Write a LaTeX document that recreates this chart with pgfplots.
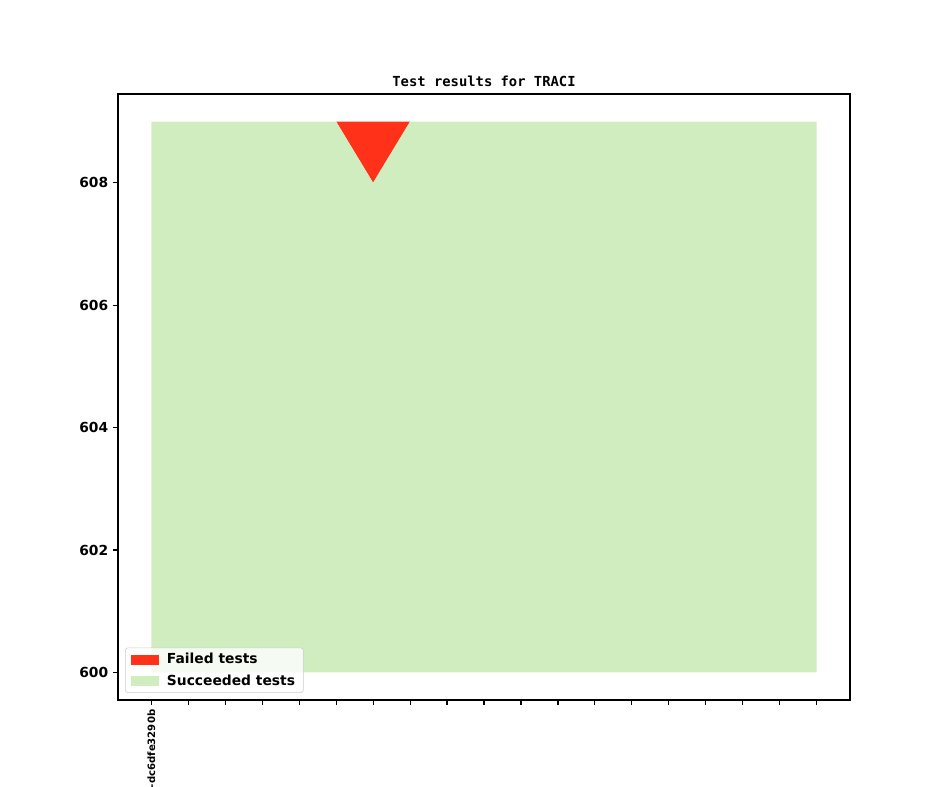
\documentclass[border=0pt]{standalone}
\usepackage{fontspec}
\setmainfont{DejaVu Sans}
\newfontfamily\titlefont{DejaVu Sans Mono}
\usepackage{pgfplots}
\pgfplotsset{compat=1.18}

\definecolor{failred}{RGB}{255,50,25}
\definecolor{succgreen}{RGB}{207,237,191}

\begin{document}
\begin{tikzpicture}[x=1bp,y=1bp]
% full figure area (944x787 px at 100 dpi)
\path[use as bounding box] (0,0) rectangle (679.68,566.64);
\clip (0,0) rectangle (679.68,566.64);
\begin{axis}[
    at={(84.96bp,62.64bp)},
    anchor=south west,
    scale only axis,
    width=527.04bp,
    height=436.32bp,
    xmin=-0.9, xmax=18.9,
    ymin=599.55, ymax=609.45,
    xtick={0,...,18},
    xticklabels={-dc6dfe3290b},
    ytick={600,602,604,606,608},
    xtick pos=bottom, ytick pos=left,
    tick align=outside,
    major tick length=3.5bp,
    tick style={line width=0.8bp, black},
    axis line style={line width=0.8bp},
    /pgf/number format/assume math mode=true,
    /pgf/number format/set thousands separator={},
    yticklabel style={font=\bfseries\fontsize{10}{12}\selectfont},
    xticklabel style={font=\bfseries\fontsize{7.3}{9}\selectfont, rotate=90, anchor=east},
    title={\titlefont\bfseries Test results for TRACI},
    title style={font=\fontsize{10}{12}\selectfont, yshift=-4.5bp},
    legend style={
        at={(0.0096,0.0116)}, anchor=south west,
        draw=black!20, fill=white, fill opacity=0.8, text opacity=1,
        rounded corners=2bp,
        font=\bfseries\fontsize{10}{12}\selectfont,
        row sep=2.2bp, inner xsep=4bp, inner ysep=2bp,
        legend cell align=left,
    },
    legend image code/.code={
        \fill[#1, sharp corners, fill opacity=1] (0bp,-3.5bp) rectangle (20bp,3.5bp);
        \path (24bp,0bp);
    },
]
\addplot[fill=failred, draw=none] coordinates {
    (5,609) (6,608) (7,609)
} -- cycle;
\addlegendentry{Failed tests}
\addplot[fill=succgreen, draw=none] coordinates {
    (0,600) (0,609) (1,609) (2,609) (3,609) (4,609) (5,609) (6,608)
    (7,609) (8,609) (9,609) (10,609) (11,609) (12,609) (13,609)
    (14,609) (15,609) (16,609) (17,609) (18,609) (18,600)
} -- cycle;
\addlegendentry{Succeeded tests}
\end{axis}
\end{tikzpicture}
\end{document}
